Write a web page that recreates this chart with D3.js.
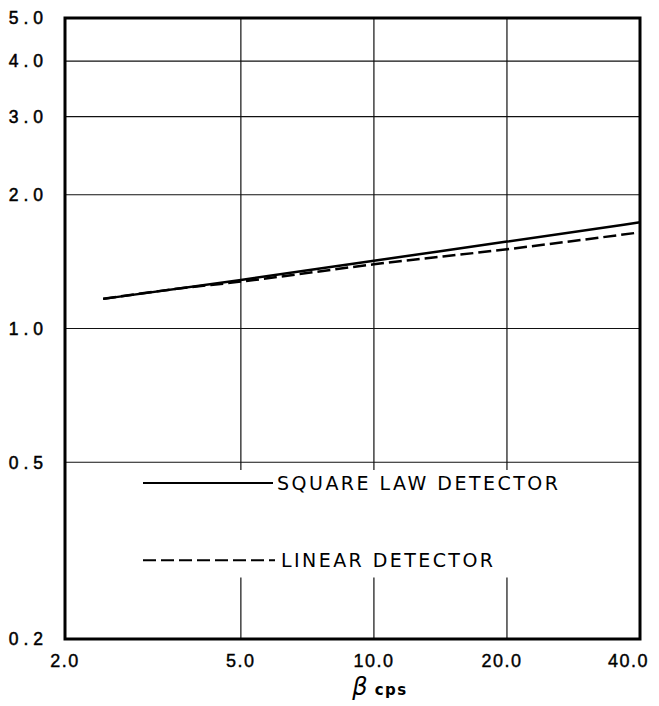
<!DOCTYPE html>
<html>
<head>
<meta charset="utf-8">
<script src="https://cdn.jsdelivr.net/npm/d3@7"></script>
<style>
  body { margin: 0; background: #fff; }
  svg { display: block; }
</style>
</head>
<body>
<svg id="chart" width="659" height="706"></svg>
<script>
const svg = d3.select("#chart");
const margin = {top: 18, right: 19, bottom: 67, left: 65};
const width = +svg.attr("width") - margin.left - margin.right;
const height = +svg.attr("height") - margin.top - margin.bottom;
const fontFamily = "DejaVu Sans, sans-serif";
const tickFont = "Liberation Sans, Arial, sans-serif";

// data
const xTicks = [2, 5, 10, 20, 40];
const yTicks = [0.2, 0.5, 1, 2, 3, 4, 5];
const betaSquare = [2.44, 5, 10, 20, 40];
const squareLaw = [1.166, 1.286, 1.421, 1.569, 1.734];
const betaLinear = [2.44, 3.5, 5, 10, 20, 40];
const linearDet = [1.166, 1.225, 1.275, 1.395, 1.508, 1.646];
const legendLabels = ["SQUARE LAW DETECTOR", "LINEAR DETECTOR"];

const x = d3.scaleLog().domain([2, 40]).range([0, width]);
const y = d3.scaleLog().domain([0.2, 5]).range([height, 0]);

const g = svg.append("g").attr("transform", `translate(${margin.left},${margin.top})`);

// horizontal grid
g.selectAll(".hgrid")
  .data(yTicks.filter(d => d > 0.2 && d < 5))
  .join("line")
  .attr("x1", 0).attr("x2", width)
  .attr("y1", d => y(d)).attr("y2", d => y(d))
  .attr("stroke", "#111").attr("stroke-width", 1.2);

// vertical grid, broken where the legend sits
const vlines = xTicks.filter(d => d > 2 && d < 40);
[[5, 0.48], [0.275, 0.2]].forEach(([top, bot]) => {
  g.selectAll(null)
    .data(vlines)
    .join("line")
    .attr("x1", d => x(d)).attr("x2", d => x(d))
    .attr("y1", y(top)).attr("y2", y(bot))
    .attr("stroke", "#111").attr("stroke-width", 1.2);
});

// frame
g.append("rect")
  .attr("width", width).attr("height", height)
  .attr("fill", "none").attr("stroke", "#000").attr("stroke-width", 3);

// y labels
g.selectAll(".ylab")
  .data(yTicks)
  .join("text")
  .attr("x", -17).attr("y", d => y(d))
  .attr("dy", "0.36em")
  .attr("text-anchor", "end")
  .attr("font-family", tickFont).attr("font-size", 17.5)
  .attr("letter-spacing", 5)
  .attr("fill", "#000").attr("stroke", "#000").attr("stroke-width", 0.5)
  .text(d => d.toFixed(1));

// x labels (last one kept inside the page)
g.selectAll(".xlab")
  .data(xTicks)
  .join("text")
  .attr("x", (d, i) => i === xTicks.length - 1 ? x(d) + 9 : x(d) - (d === 20 ? 5 : 0))
  .attr("y", height + 28)
  .attr("text-anchor", (d, i) => i === xTicks.length - 1 ? "end" : "middle")
  .attr("font-family", tickFont).attr("font-size", 18)
  .attr("letter-spacing", 1.5)
  .attr("fill", "#000").attr("stroke", "#000").attr("stroke-width", 0.4)
  .text(d => d.toFixed(1));

// x title
const title = svg.append("text")
  .attr("x", 380).attr("y", 695)
  .attr("text-anchor", "middle")
  .attr("font-family", fontFamily).attr("fill", "#000");
title.append("tspan").attr("font-size", 24).attr("font-style", "italic").text("β");
title.append("tspan").attr("font-size", 15).attr("font-weight", "bold")
  .attr("dx", 7).attr("letter-spacing", 1.5).text("cps");

// curves
const line = d3.line().x(d => x(d[0])).y(d => y(d[1])).curve(d3.curveMonotoneX);

g.append("path")
  .datum(d3.zip(betaSquare, squareLaw))
  .attr("d", line)
  .attr("fill", "none").attr("stroke", "#000").attr("stroke-width", 2.5);

g.append("path")
  .datum(d3.zip(betaLinear, linearDet))
  .attr("d", line)
  .attr("fill", "none").attr("stroke", "#000").attr("stroke-width", 2.5)
  .attr("stroke-dasharray", "13,5");

// legend
const legend = [
  {label: legendLabels[0], dash: null, y: y(0.449), x2: 208, tx: 212, tl: 281},
  {label: legendLabels[1], dash: "13,5", y: y(0.301), x2: 210, tx: 216, tl: 212}
];
legend.forEach(l => {
  g.append("line")
    .attr("x1", 78).attr("x2", l.x2)
    .attr("y1", l.y).attr("y2", l.y)
    .attr("stroke", "#000").attr("stroke-width", 2)
    .attr("stroke-dasharray", l.dash);
  g.append("text")
    .attr("x", l.tx).attr("y", l.y)
    .attr("dy", "0.36em")
    .attr("font-family", fontFamily).attr("font-size", 19)
    .attr("textLength", l.tl).attr("lengthAdjust", "spacing")
    .attr("fill", "#000")
    .text(l.label);
});
</script>
</body>
</html>
